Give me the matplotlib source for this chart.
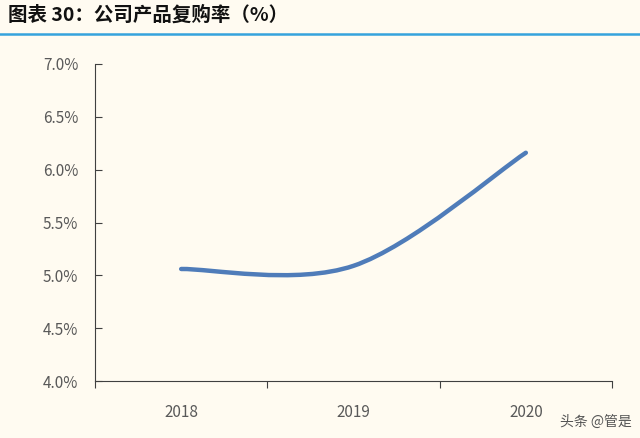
import matplotlib
matplotlib.use("Agg")
import matplotlib.pyplot as plt
import numpy as np
from matplotlib.path import Path
from matplotlib.patches import PathPatch

plt.rcParams['font.family'] = ['Noto Sans CJK SC', 'DejaVu Sans']

years = ['2018', '2019', '2020']
rates = [5.06, 5.09, 6.16]
yticks = [4.0, 4.5, 5.0, 5.5, 6.0, 6.5, 7.0]
bg = '#FFFBF1'

fig = plt.figure(figsize=(6.4, 4.38), dpi=100, facecolor=bg)
ax = fig.add_axes([95/640, 1-381/438, (612-95)/640, (381-64)/438], facecolor=bg)

x = np.arange(len(years))
y = np.array(rates)
# Excel-like smoothed Bezier through data points
t = 1/6
verts = [(x[0], y[0])]
codes = [Path.MOVETO]
n = len(x)
for i in range(n-1):
    p0 = (x[i-1], y[i-1]) if i > 0 else (x[i], y[i])
    p3 = (x[i+2], y[i+2]) if i+2 < n else (x[i+1], y[i+1])
    c1 = (x[i] + (x[i+1]-p0[0])*t, y[i] + (y[i+1]-p0[1])*t)
    c2 = (x[i+1] - (p3[0]-x[i])*t, y[i+1] - (p3[1]-y[i])*t)
    verts += [c1, c2, (x[i+1], y[i+1])]
    codes += [Path.CURVE4]*3
ax.add_patch(PathPatch(Path(verts, codes), fill=False, edgecolor='#4F7CB9', lw=3.2, capstyle='round'))

ax.set_xlim(-0.5, 2.5)
ax.set_ylim(4.0, 7.0)
ax.set_yticks(yticks)
ax.set_yticklabels([f'{v:.1f}%' for v in yticks], color='#595959', fontsize=11)
ax.set_xticks([-0.5, 0.5, 1.5, 2.5])
ax.set_xticklabels([])
ax.tick_params(axis='x', length=5, direction='out', color='#404040')
ax.tick_params(axis='y', length=5, direction='in', color='#404040', pad=12)
for i, yr in enumerate(years):
    ax.text(i, 3.70, yr, ha='center', va='center', fontsize=11, color='#595959', transform=ax.transData)
for s in ['top', 'right']:
    ax.spines[s].set_visible(False)
for s in ['left', 'bottom']:
    ax.spines[s].set_color('#404040')

fig.text(8/640, 1-15/438, '图表 30：公司产品复购率（%）', fontsize=14, fontweight='bold',
         style='italic', va='center', ha='left', color='#111111')
fig.add_artist(plt.Line2D([0, 1], [1-34/438]*2, color='#35A3DD', lw=1.8))
fig.text(632/640, 1-422/438, '头条 @管是', fontsize=10, ha='right', va='center', color='#555555')

fig.savefig('out.png', dpi=100, facecolor=bg)
